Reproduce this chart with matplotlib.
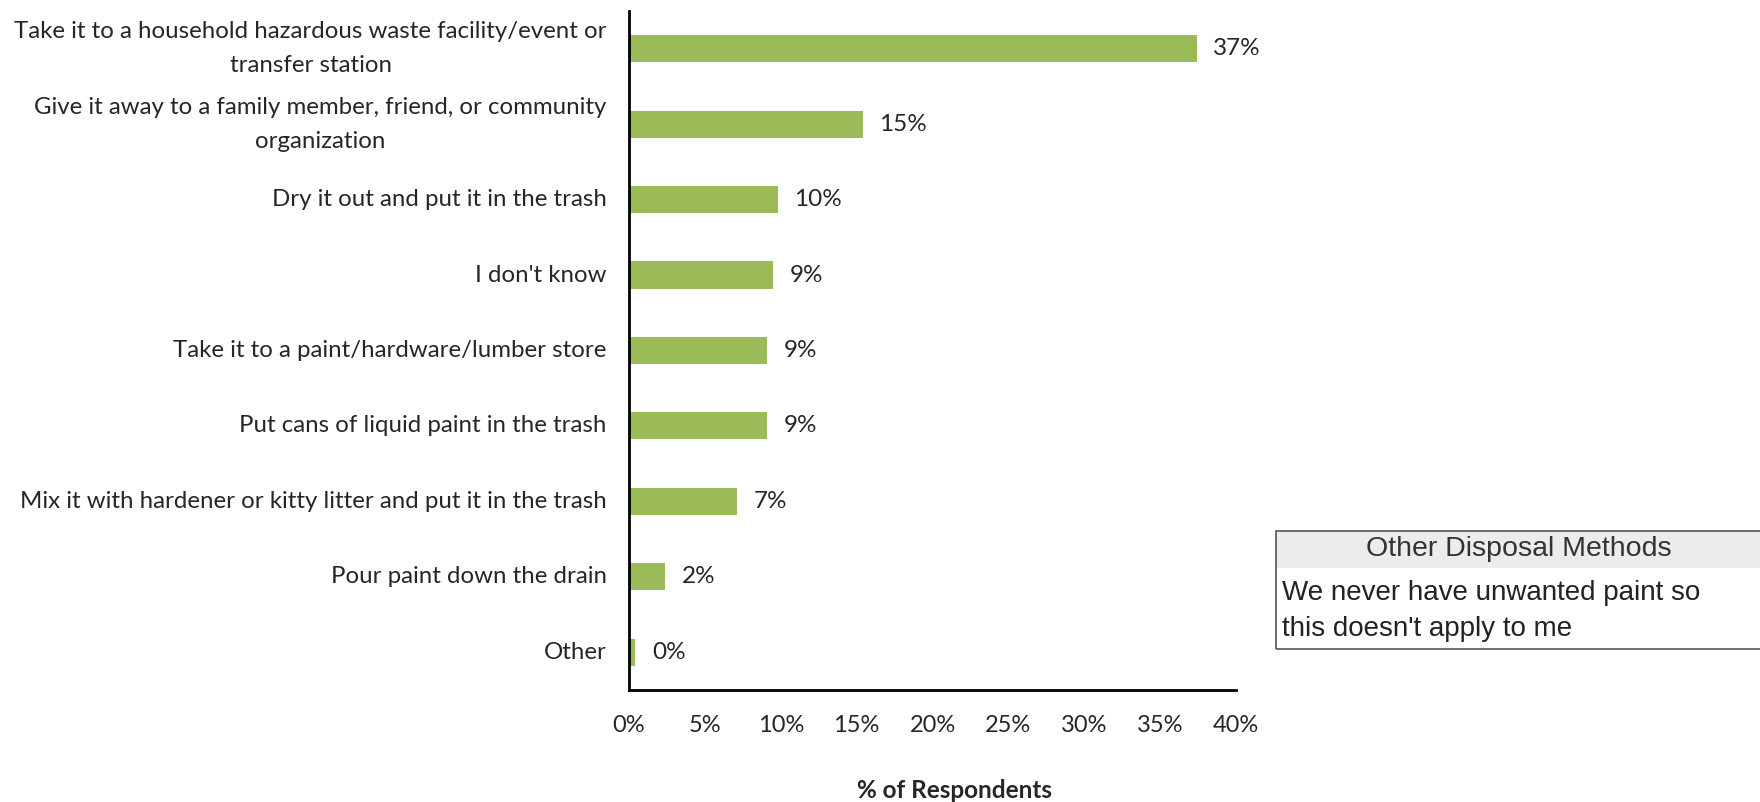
import matplotlib.pyplot as plt
from matplotlib.patches import Rectangle

categories = [
    "Take it to a household hazardous waste facility/event or\ntransfer station",
    "Give it away to a family member, friend, or community\norganization",
    "Dry it out and put it in the trash",
    "I don't know",
    "Take it to a paint/hardware/lumber store",
    "Put cans of liquid paint in the trash",
    "Mix it with hardener or kitty litter and put it in the trash",
    "Pour paint down the drain",
    "Other",
]
values = [37.4, 15.4, 9.8, 9.5, 9.1, 9.1, 7.1, 2.4, 0.4]
value_labels = ["37%", "15%", "10%", "9%", "9%", "9%", "7%", "2%", "0%"]
xticks = [0, 5, 10, 15, 20, 25, 30, 35, 40]

box_title = "Other Disposal Methods"
box_text = "We never have unwanted paint so\nthis doesn't apply to me"

BAR = "#9BBB59"
TXT = "#262626"
plt.rcParams['font.family'] = ['Lato', 'DejaVu Sans']

fig = plt.figure(figsize=(17.6, 8.02), dpi=100)
ax = fig.add_axes([0.3574, 0.1397, 0.3449, 0.8466])

pos = list(range(len(categories)))
ax.barh(pos, values, height=0.36, color=BAR)
ax.set_ylim(len(categories) - 0.5, -0.5)
ax.set_xlim(0, 40)

ax.set_yticks(pos)
ax.set_yticklabels(categories, fontsize=17.3, color=TXT, multialignment='center',
                   linespacing=1.75, va='center')
ax.set_xticks(xticks)
ax.set_xticklabels([f"{t}%" for t in xticks], fontsize=17, color=TXT)
ax.tick_params(axis='both', length=0)
ax.tick_params(axis='y', pad=16)
ax.tick_params(axis='x', pad=18)

for sp in ['top', 'right']:
    ax.spines[sp].set_visible(False)
for sp in ['left', 'bottom']:
    ax.spines[sp].set_linewidth(2)
    ax.spines[sp].set_color('black')

for p, v, lab in zip(pos, values, value_labels):
    ax.annotate(lab, (v, p), xytext=(12, 0), textcoords='offset points',
                va='center', ha='left', fontsize=17.5, color=TXT)

ax.set_xlabel("% of Respondents", fontsize=17.5, fontweight='bold', color=TXT)
ax.xaxis.set_label_coords(0.537, -0.131)

# side box with other disposal methods
bx, by, bw, bh = 1276 / 1760, 1 - 649 / 802, 0.28, 118 / 802
hh = 37 / 802
fig.patches.append(Rectangle((bx, by + bh - hh), bw, hh, transform=fig.transFigure,
                             facecolor='#ececec', edgecolor='none'))
fig.patches.append(Rectangle((bx, by), bw, bh, transform=fig.transFigure,
                             facecolor='none', edgecolor='#555555', linewidth=1.2))
fig.text(1519 / 1760, by + bh - hh / 2, box_title, ha='center', va='center',
         fontsize=20.5, color='#333333', family='Liberation Sans')
fig.text(1282 / 1760, by + (bh - hh) / 2 - 3 / 802, box_text, ha='left', va='center',
         fontsize=20, color='#222222', family='Liberation Sans', linespacing=1.5)

fig.savefig("out.png", dpi=100, facecolor='white')
